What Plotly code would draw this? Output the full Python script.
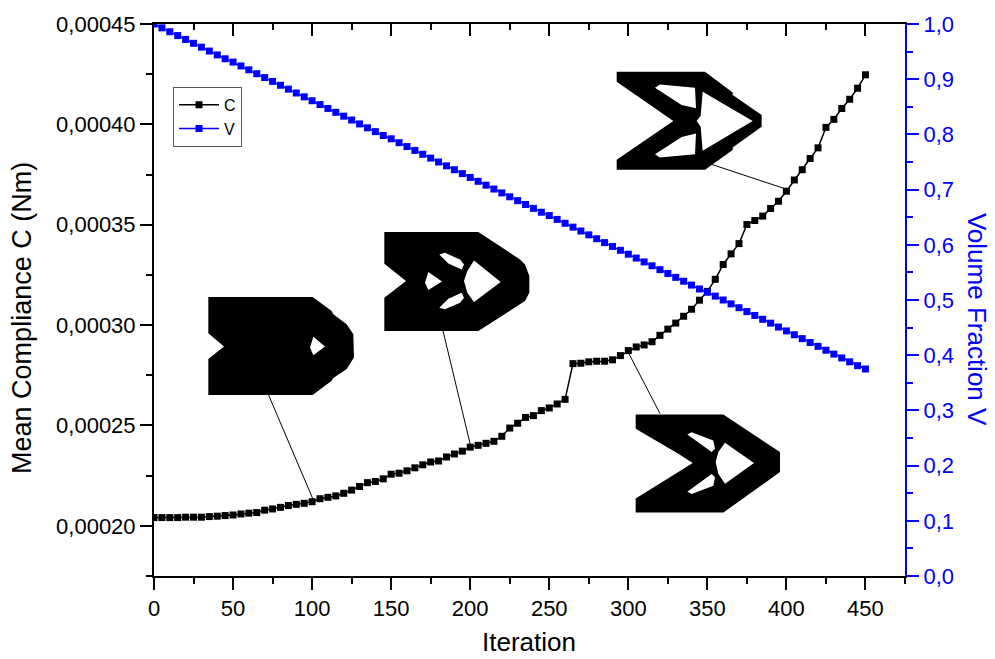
import plotly.graph_objects as go

W, H = 995, 659
L, R, T, B = 154, 905, 22, 576

iteration = list(range(0, 451, 5))
compliance_e4 = [
    2.041, 2.041, 2.041, 2.041, 2.043, 2.043, 2.043, 2.046, 2.048, 2.051,
    2.054, 2.059, 2.063, 2.066, 2.078, 2.084, 2.092, 2.101, 2.107, 2.112,
    2.120, 2.135, 2.142, 2.149, 2.162, 2.178, 2.196, 2.215, 2.221, 2.234,
    2.257, 2.262, 2.274, 2.289, 2.304, 2.318, 2.323, 2.343, 2.358, 2.372,
    2.392, 2.401, 2.411, 2.421, 2.446, 2.487, 2.511, 2.540, 2.549, 2.574,
    2.587, 2.607, 2.630, 2.808, 2.810, 2.817, 2.820, 2.820, 2.827, 2.848,
    2.873, 2.891, 2.901, 2.917, 2.949, 2.980, 3.010, 3.044, 3.079, 3.124,
    3.168, 3.228, 3.302, 3.355, 3.406, 3.501, 3.521, 3.543, 3.581, 3.617,
    3.667, 3.723, 3.774, 3.830, 3.883, 3.985, 4.025, 4.079, 4.125, 4.180,
    4.247,
]
compliance = [v * 1e-4 for v in compliance_e4]
volume = [
    1.000, 0.993, 0.986, 0.979, 0.972, 0.965, 0.958, 0.951, 0.944, 0.937,
    0.931, 0.924, 0.917, 0.910, 0.903, 0.896, 0.889, 0.882, 0.875, 0.868,
    0.861, 0.854, 0.847, 0.840, 0.833, 0.826, 0.819, 0.812, 0.805, 0.798,
    0.792, 0.785, 0.778, 0.771, 0.764, 0.757, 0.750, 0.743, 0.736, 0.729,
    0.722, 0.715, 0.708, 0.701, 0.694, 0.687, 0.680, 0.673, 0.666, 0.659,
    0.653, 0.646, 0.639, 0.632, 0.625, 0.618, 0.611, 0.604, 0.597, 0.590,
    0.583, 0.576, 0.569, 0.562, 0.555, 0.548, 0.541, 0.534, 0.527, 0.520,
    0.514, 0.507, 0.500, 0.493, 0.486, 0.479, 0.472, 0.465, 0.458, 0.451,
    0.444, 0.437, 0.430, 0.423, 0.416, 0.409, 0.402, 0.395, 0.388, 0.381,
    0.375,
]

FONT = "Liberation Sans, Arial, sans-serif"
BLUE = "#0000ff"


def to_paper(px, py):
    return (px - L) / (R - L), (B - py) / (B - T)


def path(ox, oy, *loops):
    """Closed sub-paths from 3x-zoom outlines, mapped to paper coordinates."""
    s = ""
    for loop in loops:
        for i, (a, b) in enumerate(loop):
            x, y = to_paper(ox + a / 3, oy + b / 3)
            s += f"{'M' if i == 0 else 'L'}{x:.5f},{y:.5f} "
        s += "Z "
    return s


inset_a = path(200, 290,
    [(25,18),(338,18),(395,60),(400,70),(440,100),(460,130),(462,200),(440,235),
     (400,262),(395,270),(338,313),(25,313),(25,205),(72,167),(25,127)],
    [(340,138),(375,167),(340,193),(330,170)])
inset_b = path(380, 225,
    [(13,17),(295,17),(420,100),(435,115),(448,150),(448,200),(435,225),(420,235),
     (295,315),(13,315),(13,215),(78,165),(13,113)],
    [(145,138),(186,166),(145,192),(135,170)],
    [(178,85),(195,80),(240,100),(252,115),(245,130),(205,112)],
    [(178,245),(195,250),(240,230),(252,215),(245,200),(205,218)],
    [(282,103),(362,168),(282,228),(262,200),(252,165),(262,135)])
inset_c = path(630, 410,
    [(17,12),(280,12),(450,125),(450,185),(280,307),(17,307),(17,265),(145,185),
     (188,158),(145,130),(17,55)],
    [(172,72),(185,65),(250,90),(255,115),(245,125)],
    [(172,244),(185,251),(250,226),(255,201),(245,191)],
    [(285,97),(372,158),(285,220),(265,190),(257,155),(265,125)])
inset_d = path(610, 60,
    [(20,30),(285,30),(368,92),(368,100),(455,160),(455,195),(368,258),(368,265),
     (285,325),(20,325),(20,295),(190,178),(20,60)],
    [(135,78),(150,68),(255,78),(258,140),(215,130)],
    [(135,278),(150,288),(255,278),(258,216),(215,226)],
    [(278,90),(428,178),(278,268),(272,195),(260,178),(272,162)])

shapes = [
    dict(type="path", xref="paper", yref="paper", path=p,
         fillcolor="black", line=dict(width=0), fillrule="evenodd")
    for p in (inset_a, inset_b, inset_c, inset_d)
]
for (x0, y0, x1, y1) in [(268, 393, 313, 499), (443, 330, 471, 447),
                         (629, 353, 660, 413), (712, 163, 787, 188)]:
    a, b = to_paper(x0, y0)
    c, d = to_paper(x1, y1)
    shapes.append(dict(type="line", xref="paper", yref="paper", x0=a, y0=b, x1=c, y1=d,
                       line=dict(color="black", width=1)))

fig = go.Figure()
fig.add_trace(go.Scatter(x=iteration, y=compliance, name="C", mode="lines+markers",
                         line=dict(color="black", width=1.5),
                         marker=dict(symbol="square", size=7, color="black"),
                         hoverinfo="skip"))
fig.add_trace(go.Scatter(x=iteration, y=volume, name="V", mode="lines+markers", yaxis="y2",
                         line=dict(color=BLUE, width=1.5),
                         marker=dict(symbol="square", size=7, color=BLUE),
                         hoverinfo="skip"))
fig.add_trace(go.Scatter(x=[None], y=[None], xaxis="x2", showlegend=False, hoverinfo="skip"))

lx, ly = to_paper(173, 85)
annotations = [
    dict(text="Iteration", xref="paper", yref="paper", x=to_paper(529, 0)[0], y=to_paper(0, 642)[1],
         xanchor="center", yanchor="middle", showarrow=False,
         font=dict(size=26, color="black")),
    dict(text="Mean Compliance C (Nm)", xref="paper", yref="paper", x=to_paper(22, 0)[0],
         y=to_paper(0, 317)[1], xanchor="center", yanchor="middle", showarrow=False,
         textangle=-90, font=dict(size=27, color="black")),
    dict(text="Volume Fraction V", xref="paper", yref="paper", x=to_paper(977, 0)[0],
         y=to_paper(0, 318)[1], xanchor="center", yanchor="middle", showarrow=False,
         textangle=90, font=dict(size=26, color=BLUE)),
]

fig.update_layout(
    width=W, height=H,
    margin=dict(l=L, r=W - R, t=T, b=H - B, pad=0),
    paper_bgcolor="white", plot_bgcolor="white",
    separators=",.",
    font=dict(family=FONT, size=22, color="black"),
    showlegend=True,
    legend=dict(x=lx, y=ly, xanchor="left", yanchor="top", bgcolor="white",
                bordercolor="#555555", borderwidth=1, font=dict(size=16),
                itemwidth=40, tracegroupgap=0),
    shapes=shapes,
    annotations=annotations,
    xaxis=dict(range=[0, 475], tick0=0, dtick=50, ticks="outside", ticklen=12, tickwidth=2,
               tickcolor="black", linecolor="black", linewidth=2, showline=True, showgrid=False,
               zeroline=False, tickfont=dict(size=22),
               minor=dict(dtick=25, ticks="outside", ticklen=6, tickwidth=2, tickcolor="black",
                          showgrid=False)),
    xaxis2=dict(range=[0, 475], overlaying="x", side="top", anchor="y", tick0=0, dtick=50,
                ticks="inside", ticklen=12, tickwidth=2, tickcolor="black", linecolor="black",
                linewidth=2, showline=True, showgrid=False, zeroline=False, showticklabels=False,
                minor=dict(dtick=25, ticks="inside", ticklen=6, tickwidth=2, tickcolor="black",
                           showgrid=False)),
    yaxis=dict(range=[0.000175, 0.00045], tick0=0.0002, dtick=0.00005, tickformat=".5f",
               ticks="outside", ticklen=12, tickwidth=2, tickcolor="black", linecolor="black",
               linewidth=2, showline=True, showgrid=False, zeroline=False,
               tickfont=dict(size=22),
               minor=dict(dtick=0.000025, ticks="outside", ticklen=6, tickwidth=2,
                          tickcolor="black", showgrid=False)),
    yaxis2=dict(range=[0, 1], overlaying="y", side="right", tick0=0, dtick=0.1, tickformat=".1f",
                ticks="outside", ticklen=12, tickwidth=2, tickcolor=BLUE, linecolor=BLUE,
                linewidth=2, showline=True, showgrid=False, zeroline=False,
                tickfont=dict(size=22, color=BLUE),
                minor=dict(dtick=0.05, ticks="outside", ticklen=6, tickwidth=2, tickcolor=BLUE,
                           showgrid=False)),
)

fig.write_html("out.html", post_script="document.body.style.margin='0';",
               config=dict(displayModeBar=False))
